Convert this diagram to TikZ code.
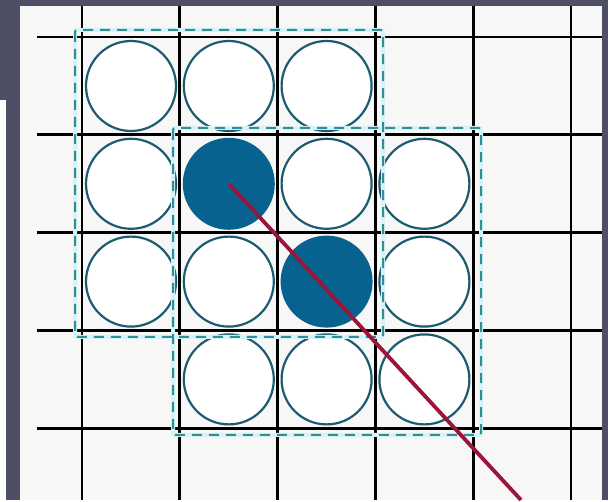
\documentclass[tikz,border=0pt]{standalone}
\usepackage{xcolor}
\definecolor{FrameSlate}{HTML}{4E4E64}
\definecolor{PaperGray}{HTML}{F7F7F7}
\definecolor{RingTeal}{HTML}{1D5C70}
\definecolor{DotBlue}{HTML}{07628F}
\definecolor{BoxTeal}{HTML}{2F8D9C}
\definecolor{BoxGlow}{HTML}{D6F4F7}
\definecolor{RayRed}{HTML}{9C1538}
\usepackage{tikz}
\usetikzlibrary{positioning}

\begin{document}
\begin{tikzpicture}[x=1pt,y=-1pt,node distance=97.8pt,on grid,
  ring/.style={circle,draw=RingTeal,line width=2.2pt,fill=white,minimum size=90pt,inner sep=0pt},
  dot/.style={circle,fill=DotBlue,minimum size=92pt,inner sep=0pt},
  gridline/.style={line width=2.8pt,black},
  group/.style={draw=BoxTeal,dash pattern=on 10pt off 7pt,line width=2pt,rounded corners=2pt},
  glow/.style={draw=BoxGlow,line width=4pt,rounded corners=2pt},
  ray/.style={line width=3.8pt,RayRed}
]
  % frame and paper
  \fill[FrameSlate] (0,0) rectangle (608,500);
  \fill[PaperGray] (20,6) rectangle (602,500);
  \fill[white] (0,100) rectangle (6,500);

  % grid
  \foreach \i in {0,...,5}
    \draw[gridline] ({82+97.8*\i},6) -- ({82+97.8*\i},500);
  \foreach \j in {0,...,4}
    \draw[gridline] (37,{37+97.8*\j}) -- (602,{37+97.8*\j});

  % cells
  \node[ring] (a1) at (131,86) {};
  \node[ring,right=of a1] (a2) {};
  \node[ring,right=of a2] (a3) {};
  \node[ring,below=of a1] (b1) {};
  \node[dot,right=of b1] (b2) {};
  \node[ring,right=of b2] (b3) {};
  \node[ring,right=of b3] (b4) {};
  \node[ring,below=of b1] (c1) {};
  \node[ring,right=of c1] (c2) {};
  \node[dot,right=of c2] (c3) {};
  \node[ring,right=of c3] (c4) {};
  \node[ring,below=of c2] (d2) {};
  \node[ring,right=of d2] (d3) {};
  \node[ring,right=of d3] (d4) {};

  % dashed groups
  \draw[glow] (75,30) rectangle (383,337);
  \draw[glow] (173,128) rectangle (481,435);
  \draw[group] (75,30) rectangle (383,337);
  \draw[group] (173,128) rectangle (481,435);

  % ray
  \coordinate (rayend) at (521,500);
  \draw[ray] (b2.center) -- (rayend);
\end{tikzpicture}
\end{document}
